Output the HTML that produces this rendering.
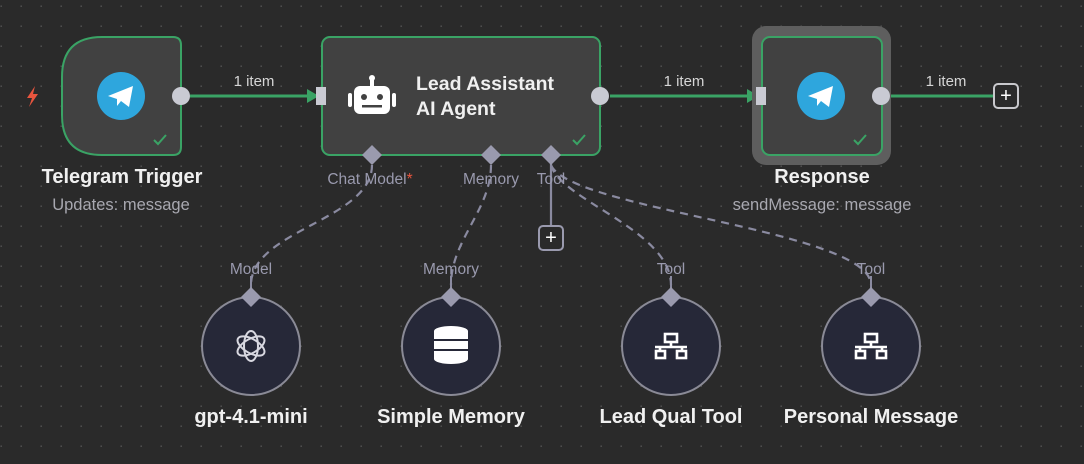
<!DOCTYPE html>
<html><head><meta charset="utf-8"><style>
html,body{margin:0;padding:0;background:#2a2a2a;width:1084px;height:464px;overflow:hidden}
text{font-family:"Liberation Sans",sans-serif}
</style></head><body>
<svg width="1084" height="464" viewBox="0 0 1084 464" xmlns="http://www.w3.org/2000/svg">
<defs>
<pattern id="dots" width="20" height="20" patternUnits="userSpaceOnUse" x="-9" y="-4">
<rect x="9.5" y="9.5" width="1.4" height="1.4" fill="#555"/>
</pattern>
</defs>
<rect width="1084" height="464" fill="#2a2a2a"/>
<rect width="1084" height="464" fill="url(#dots)"/>

<g fill="none" stroke="#8a8aa0" stroke-width="2.2" stroke-dasharray="8 6">
<path d="M372,165 C372,220 251,230 251,285"/>
<path d="M491,165 C491,210 451,240 451,285"/>
<path d="M551,165 C560,200 671,230 671,285"/>
<path d="M551,165 C570,210 871,230 871,285"/>
</g>
<line x1="551" y1="160" x2="551" y2="226" stroke="#8a8aa0" stroke-width="2.2"/>
<rect x="539" y="226" width="24" height="24" rx="4" fill="#2a2a2a" stroke="#9a9aae" stroke-width="2"/>
<text x="551" y="244" font-size="20" fill="#fff" text-anchor="middle">+</text>

<g stroke="#3aa365" stroke-width="3">
<line x1="190" y1="96" x2="310" y2="96"/>
<line x1="610" y1="96" x2="750" y2="96"/>
<line x1="890" y1="96" x2="993" y2="96"/>
</g>
<polygon points="307,89 319,96 307,103" fill="#3aa365"/>
<polygon points="747,89 759,96 747,103" fill="#3aa365"/>
<g font-size="15" fill="#d6d6d6" text-anchor="middle">
<text x="254" y="86">1 item</text>
<text x="684" y="86">1 item</text>
<text x="946" y="86">1 item</text>
</g>
<rect x="994" y="84" width="24" height="24" rx="4" fill="#2a2a2a" stroke="#c8c8cc" stroke-width="2"/>
<text x="1006" y="102" font-size="20" fill="#fff" text-anchor="middle">+</text>

<path d="M35,86 L27,98 L32,98 L29,107 L38,94 L33,94 Z" fill="#e8553e"/>

<path d="M102,37 L173,37 Q181,37 181,45 L181,147 Q181,155 173,155 L102,155 Q62,155 62,115 L62,77 Q62,37 102,37 Z" fill="#414141" stroke="#3aa365" stroke-width="2"/>
<circle cx="121" cy="96" r="24" fill="#2ea6dd"/>
<path d="M108,96 L133,86 L129,107 L121,101 L117,106 L117,99 Z" fill="#fff"/>
<circle cx="181" cy="96" r="9" fill="#c9cad3"/>
<path d="M154,140 L158,144 L166,135" fill="none" stroke="#3aa365" stroke-width="2"/>
<text x="122" y="183" font-size="20" font-weight="bold" fill="#f0f0f0" text-anchor="middle">Telegram Trigger</text>
<text x="121" y="210" font-size="16.5" fill="#a8a8b0" text-anchor="middle">Updates: message</text>

<rect x="322" y="37" width="278" height="118" rx="8" fill="#414141" stroke="#3aa365" stroke-width="2"/>
<rect x="316" y="87" width="10" height="18" fill="#c9cad3"/>
<circle cx="600" cy="96" r="9" fill="#c9cad3"/>
<g fill="#fff">
<rect x="354" y="86" width="36" height="28" rx="6"/>
<rect x="348" y="93" width="4" height="14" rx="2"/>
<rect x="392" y="93" width="4" height="14" rx="2"/>
<rect x="370" y="78" width="4" height="8"/>
<circle cx="372" cy="78" r="3"/>
</g>
<circle cx="364" cy="97" r="3" fill="#414141"/><circle cx="380" cy="97" r="3" fill="#414141"/>
<rect x="362" y="105" width="20" height="2.5" fill="#414141"/>
<text x="416" y="90" font-size="19.5" font-weight="bold" fill="#f0f0f0">Lead Assistant</text>
<text x="416" y="115" font-size="19.5" font-weight="bold" fill="#f0f0f0">AI Agent</text>
<path d="M573,140 L577,144 L585,135" fill="none" stroke="#3aa365" stroke-width="2"/>
<g fill="#9a9aae">
<polygon points="372,145 382,155 372,165 362,155"/>
<polygon points="491,145 501,155 491,165 481,155"/>
<polygon points="551,145 561,155 551,165 541,155"/>
</g>
<g font-size="15.5" fill="#9a9aae" text-anchor="middle">
<text x="370" y="184">Chat Model<tspan fill="#e8553e">*</tspan></text>
<text x="491" y="184">Memory</text>
<text x="551" y="184">Tool</text>
</g>

<rect x="752" y="26" width="139" height="139" rx="14" fill="#5e5e5e"/>
<rect x="762" y="37" width="120" height="118" rx="8" fill="#414141" stroke="#3aa365" stroke-width="2"/>
<rect x="756" y="87" width="10" height="18" fill="#c9cad3"/>
<circle cx="881" cy="96" r="9" fill="#c9cad3"/>
<circle cx="821" cy="96" r="24" fill="#2ea6dd"/>
<path d="M808,96 L833,86 L829,107 L821,101 L817,106 L817,99 Z" fill="#fff"/>
<path d="M854,140 L858,144 L866,135" fill="none" stroke="#3aa365" stroke-width="2"/>
<text x="822" y="183" font-size="20" font-weight="bold" fill="#f0f0f0" text-anchor="middle">Response</text>
<text x="822" y="210" font-size="16.5" fill="#a8a8b0" text-anchor="middle">sendMessage: message</text>

<g fill="#262838" stroke="#8a8a96" stroke-width="2">
<circle cx="251" cy="346" r="49"/>
<circle cx="451" cy="346" r="49"/>
<circle cx="671" cy="346" r="49"/>
<circle cx="871" cy="346" r="49"/>
</g>
<g stroke="#8a8aa0" stroke-width="2">
<line x1="251" y1="276" x2="251" y2="290"/><line x1="451" y1="276" x2="451" y2="290"/>
<line x1="671" y1="276" x2="671" y2="290"/><line x1="871" y1="276" x2="871" y2="290"/>
</g>
<g fill="#9a9aae">
<polygon points="251,287 261,297 251,307 241,297"/>
<polygon points="451,287 461,297 451,307 441,297"/>
<polygon points="671,287 681,297 671,307 661,297"/>
<polygon points="871,287 881,297 871,307 861,297"/>
</g>
<g font-size="15.5" fill="#9a9aae" text-anchor="middle">
<text x="251" y="274">Model</text>
<text x="451" y="274">Memory</text>
<text x="671" y="274">Tool</text>
<text x="871" y="274">Tool</text>
</g>
<g fill="none" stroke="#d8d8e0" stroke-width="2">
<ellipse cx="251" cy="346" rx="7" ry="15"/>
<ellipse cx="251" cy="346" rx="7" ry="15" transform="rotate(60 251 346)"/>
<ellipse cx="251" cy="346" rx="7" ry="15" transform="rotate(-60 251 346)"/>
</g>
<g fill="#fff">
<ellipse cx="451" cy="331" rx="17" ry="5"/>
<rect x="434" y="331" width="34" height="8"/>
<rect x="434" y="341" width="34" height="8"/>
<rect x="434" y="351" width="34" height="8"/>
<ellipse cx="451" cy="359" rx="17" ry="5"/>
</g>
<g fill="none" stroke="#fff" stroke-width="2.6">
<rect x="665" y="334" width="12" height="8"/><line x1="671" y1="342" x2="671" y2="347"/>
<line x1="655" y1="347" x2="687" y2="347"/>
<line x1="660" y1="347" x2="660" y2="351"/><line x1="682" y1="347" x2="682" y2="351"/>
<rect x="656" y="351" width="9" height="7"/><rect x="677" y="351" width="9" height="7"/>
<rect x="865" y="334" width="12" height="8"/><line x1="871" y1="342" x2="871" y2="347"/>
<line x1="855" y1="347" x2="887" y2="347"/>
<line x1="860" y1="347" x2="860" y2="351"/><line x1="882" y1="347" x2="882" y2="351"/>
<rect x="856" y="351" width="9" height="7"/><rect x="877" y="351" width="9" height="7"/>
</g>
<g font-size="20" font-weight="bold" fill="#f0f0f0" text-anchor="middle">
<text x="251" y="423">gpt-4.1-mini</text>
<text x="451" y="423">Simple Memory</text>
<text x="671" y="423">Lead Qual Tool</text>
<text x="871" y="423">Personal Message</text>
</g>
</svg>
</body></html>
